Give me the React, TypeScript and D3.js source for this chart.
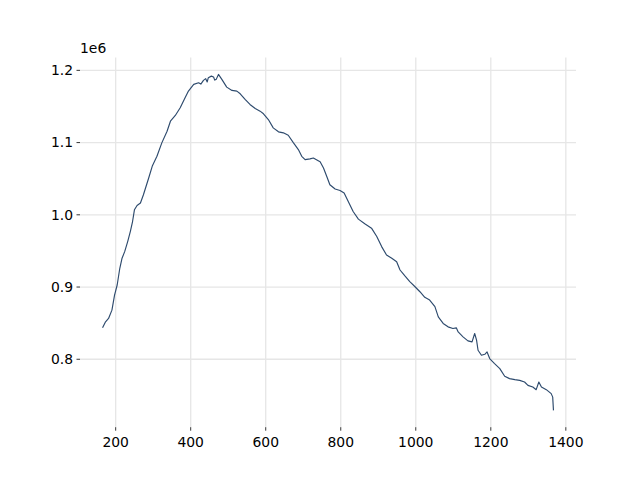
import React from "react";
import * as d3 from "d3";

const xValues: number[] = [
  165, 173, 181, 190, 197, 204, 211, 217, 224, 232, 239, 245, 250, 257, 266, 274,
  288, 298, 310, 323, 337, 346, 359, 372, 385, 394, 408, 421, 427, 434, 440, 444,
  447, 455, 461, 464, 468, 474, 483, 496, 510, 523, 532, 545, 558, 572, 585, 594,
  607, 620, 634, 647, 660, 674, 687, 696, 705, 718, 727, 740, 745, 754, 763, 771,
  785, 798, 809, 820, 833, 847, 864, 882, 896, 909, 922, 936, 949, 958, 971, 984,
  998, 1011, 1024, 1037, 1051, 1060, 1073, 1086, 1099, 1108, 1113, 1126, 1139, 1150, 1157, 1162,
  1166, 1175, 1184, 1190, 1197, 1210, 1224, 1237, 1250, 1264, 1277, 1290, 1299, 1312, 1321, 1328,
  1335, 1348, 1361, 1365, 1367,
];

const yValues: number[] = [
  843500, 851800, 856500, 868000, 888900, 902800, 926000, 939900, 949000, 962900, 976800, 990700, 1006900, 1012900, 1016300, 1027800,
  1051000, 1068000, 1081000, 1099600, 1115700, 1129600, 1137500, 1148200, 1162100, 1171300, 1180600, 1182900, 1181000, 1186100, 1188500, 1184000,
  1189900, 1192000, 1190700, 1186500, 1187500, 1194400, 1187500, 1176800, 1172200, 1171300, 1167600, 1159700, 1152800, 1147200, 1143500, 1139900,
  1131900, 1120400, 1114900, 1113500, 1110100, 1099600, 1090300, 1081000, 1076400, 1077400, 1078700, 1075000, 1073600, 1064900, 1052800, 1041700,
  1035700, 1033700, 1030100, 1018500, 1004600, 994000, 987500, 981500, 969900, 956000, 944400, 939900, 935100, 923600, 915300, 907400,
  900400, 893500, 885700, 881900, 872900, 858700, 849600, 844900, 842600, 843500, 837900, 831000, 825400, 824000, 835700, 826400,
  812500, 805600, 806900, 810100, 801000, 794000, 787100, 776400, 773200, 771800, 770800, 768500, 763900, 761500, 757900, 768500,
  761500, 757900, 752400, 747600, 729200,
];

const xTicks: number[] = [200, 400, 600, 800, 1000, 1200, 1400];
const yTicks: number[] = [800000, 900000, 1000000, 1100000, 1200000];
const yTickLabels: string[] = ["0.8", "0.9", "1.0", "1.1", "1.2"];

const W = 640;
const H = 480;
const left = 80;
const right = 576;
const top = 57.6;
const bottom = 427.2;

export default function App() {
  const [xMin, xMax] = d3.extent(xValues) as [number, number];
  const [yMin, yMax] = d3.extent(yValues) as [number, number];
  const xPad = (xMax - xMin) * 0.05;
  const yPad = (yMax - yMin) * 0.05;
  const x = d3.scaleLinear().domain([xMin - xPad, xMax + xPad]).range([left, right]);
  const y = d3.scaleLinear().domain([yMin - yPad, yMax + yPad]).range([bottom, top]);
  const pts = xValues.map((v, i) => [v, yValues[i]] as [number, number]);
  const line = d3.line<[number, number]>().x((d) => x(d[0])).y((d) => y(d[1]));
  const font = "DejaVu Sans, sans-serif";
  return (
    <svg width={W} height={H} style={{ position: "absolute", left: 0, top: 0 }}>
      <rect x={0} y={0} width={W} height={H} fill="#ffffff" />
      {xTicks.map((t) => (
        <line key={"gx" + t} x1={x(t)} x2={x(t)} y1={top} y2={bottom} stroke="#e6e6e6" strokeWidth={1.3} />
      ))}
      {yTicks.map((t) => (
        <line key={"gy" + t} x1={left} x2={right} y1={y(t)} y2={y(t)} stroke="#e6e6e6" strokeWidth={1.3} />
      ))}
      {xTicks.map((t) => (
        <g key={"tx" + t}>
          <line x1={x(t)} x2={x(t)} y1={bottom} y2={bottom + 3.5} stroke="#000" strokeWidth={0.8} />
          <text x={x(t)} y={bottom + 19.5} textAnchor="middle" fontFamily={font} fontSize={13.9} fill="#000">
            {t}
          </text>
        </g>
      ))}
      {yTicks.map((t, i) => (
        <g key={"ty" + t}>
          <line x1={left - 3.5} x2={left} y1={y(t)} y2={y(t)} stroke="#000" strokeWidth={0.8} />
          <text x={left - 7} y={y(t)} dy="0.35em" textAnchor="end" fontFamily={font} fontSize={13.9} fill="#000">
            {yTickLabels[i]}
          </text>
        </g>
      ))}
      <text x={left} y={top - 5} textAnchor="start" fontFamily={font} fontSize={13.9} fill="#000">
        1e6
      </text>
      <path d={line(pts) || ""} fill="none" stroke="#2d4a6d" strokeWidth={1.15} strokeLinejoin="round" />
    </svg>
  );
}
